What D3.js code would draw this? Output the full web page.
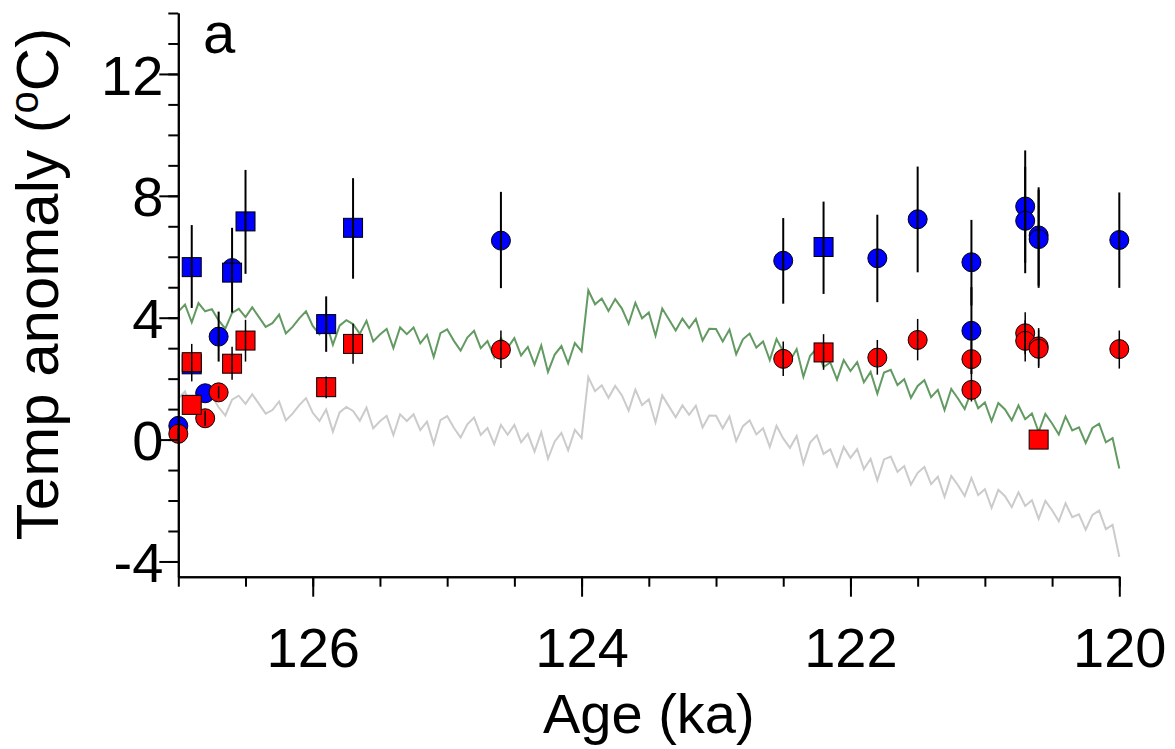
<!DOCTYPE html>
<html>
<head>
<meta charset="utf-8">
<script src="https://cdn.jsdelivr.net/npm/d3@7"></script>
<style>
  body { margin: 0; background: #fff; }
  svg text { font-family: "Liberation Sans", Arial, sans-serif; fill: #000; }
</style>
</head>
<body>
<div id="chart"></div>
<script>
// model runs, sampled every 0.05 ka from 127 down to 120 ka
const modelStart = 127
const modelStep = 0.05
const greenModel = [
  4.20, 4.43, 3.85, 4.48, 4.21, 4.28, 3.91, 3.64, 4.16, 4.29,
  4.02, 4.34, 4.02, 3.70, 3.82, 4.10, 3.48, 3.70, 3.98, 4.21,
  3.73, 3.46, 3.84, 3.11, 3.74, 3.92, 3.79, 3.47, 3.90, 3.22,
  3.45, 3.63, 3.00, 3.68, 3.46, 3.68, 3.16, 3.44, 2.71, 3.49,
  3.62, 3.24, 2.92, 3.35, 3.57, 3.00, 3.23, 2.70, 3.33, 3.01,
  3.33, 2.76, 3.04, 2.46, 3.09, 2.22, 2.79, 3.07, 2.50, 3.17,
  2.90, 4.90, 4.44, 4.63, 4.22, 4.61, 4.30, 3.80, 4.49, 3.98,
  4.17, 3.41, 4.30, 3.94, 3.58, 3.97, 3.66, 3.96, 3.25, 3.64,
  3.63, 3.22, 3.61, 2.80, 3.29, 3.48, 3.02, 3.22, 2.61, 3.30,
  2.89, 2.58, 2.97, 2.06, 2.75, 2.99, 2.38, 2.53, 1.97, 2.61,
  2.25, 2.54, 1.88, 2.22, 1.51, 2.20, 2.29, 1.79, 1.98, 1.37,
  1.76, 1.95, 1.39, 1.63, 0.97, 1.66, 1.35, 1.00, 1.59, 1.03,
  1.22, 0.61, 1.20, 0.99, 0.63, 1.12, 0.67, 0.86, 0.25, 0.84,
  0.53, 0.17, 0.76, 0.30, 0.40, -0.11, 0.38, 0.52, -0.09, 0.05,
  -0.95
]
const greyModel = [
  1.35, 1.58, 1.00, 1.63, 1.36, 1.43, 1.06, 0.79, 1.31, 1.44,
  1.17, 1.49, 1.17, 0.85, 0.97, 1.25, 0.63, 0.85, 1.13, 1.36,
  0.88, 0.61, 0.99, 0.26, 0.89, 1.07, 0.94, 0.62, 1.05, 0.37,
  0.60, 0.78, 0.15, 0.83, 0.61, 0.83, 0.31, 0.59, -0.14, 0.64,
  0.77, 0.39, 0.07, 0.50, 0.72, 0.15, 0.38, -0.15, 0.48, 0.16,
  0.48, -0.09, 0.19, -0.39, 0.24, -0.63, -0.06, 0.22, -0.35, 0.32,
  0.05, 2.05, 1.59, 1.78, 1.37, 1.76, 1.45, 0.95, 1.64, 1.13,
  1.32, 0.56, 1.45, 1.09, 0.73, 1.12, 0.81, 1.11, 0.40, 0.79,
  0.78, 0.37, 0.76, -0.05, 0.44, 0.63, 0.17, 0.37, -0.24, 0.45,
  0.04, -0.27, 0.12, -0.79, -0.10, 0.14, -0.47, -0.32, -0.88, -0.24,
  -0.60, -0.31, -0.97, -0.63, -1.34, -0.65, -0.56, -1.06, -0.87, -1.48,
  -1.09, -0.90, -1.46, -1.22, -1.88, -1.19, -1.50, -1.85, -1.26, -1.82,
  -1.63, -2.24, -1.65, -1.86, -2.22, -1.73, -2.18, -1.99, -2.60, -2.01,
  -2.32, -2.68, -2.09, -2.55, -2.45, -2.96, -2.47, -2.33, -2.94, -2.80,
  -3.85
]

// proxy estimates: [age ka, anomaly, lower, upper]  (null = no bar)
const blueCircles = [
  [127.00, 0.45, null, null],
  [126.80, 1.52, null, null],
  [126.70, 3.38, 2.56, 4.20],
  [126.60, 5.63, null, null],
  [124.60, 6.53, 4.97, 8.13],
  [122.50, 5.87, 4.46, 7.27],
  [121.80, 5.95, 4.51, 7.38],
  [121.50, 7.23, 5.49, 8.96],
  [121.10, 5.82, 4.40, 7.21],
  [121.10, 3.57, 2.15, 5.00],
  [120.70, 7.65, 5.80, 9.49],
  [120.70, 7.18, 5.46, 8.95],
  [120.60, 6.70, 5.05, 8.28],
  [120.60, 6.58, 4.98, 8.20],
  [120.00, 6.55, 4.98, 8.11]
]
const blueSquares = [
  [126.90, 2.47, null, null],
  [126.90, 5.66, 4.32, 7.04],
  [126.60, 5.48, 4.17, 6.95],
  [126.50, 7.16, 5.44, 8.85],
  [125.90, 3.79, 2.88, 4.70],
  [125.70, 6.95, 5.28, 8.58],
  [122.20, 6.32, 4.78, 7.81]
]
const redCircles = [
  [127.00, 0.19, 0.00, 0.38],
  [126.80, 0.70, 0.45, 0.95],
  [126.70, 1.55, 1.35, 1.75],
  [124.60, 2.95, 2.35, 3.58],
  [122.50, 2.65, 2.09, 3.22],
  [121.80, 2.69, 2.13, 3.27],
  [121.50, 3.27, 2.60, 3.96],
  [121.10, 2.64, 2.05, 3.22],
  [121.10, 1.63, 1.25, 2.05],
  [120.70, 3.49, 2.80, 4.18],
  [120.70, 3.24, 2.56, 3.92],
  [120.60, 3.06, 2.40, 3.66],
  [120.60, 2.98, 2.35, 3.60],
  [120.00, 2.97, 2.33, 3.58]
]
const redSquares = [
  [126.90, 2.54, 1.91, 3.14],
  [126.90, 1.14, null, null],
  [126.60, 2.49, 1.96, 3.05],
  [126.50, 3.25, 2.56, 3.93],
  [125.90, 1.72, 1.36, 2.07],
  [125.70, 3.14, 2.49, 3.80],
  [122.20, 2.86, 2.29, 3.46],
  [120.60, 0.00, null, null]
]

const xMajor = [126, 124, 122, 120]
const yMajor = [-4, 0, 4, 8, 12]

function draw(){
    const dimension = { width: 1175, height: 749 }

    const svg = d3.select('#chart')
        .append('svg')
        .attr('width', dimension.width)
        .attr('height', dimension.height)

    // scales
    const x = d3.scaleLinear().domain([127, 120]).range([178.3, 1119.3])
    const y = d3.scaleLinear().domain([-4.5, 14]).range([576.7, 13])

    // model lines
    const ages = d3.range(greenModel.length).map(i => modelStart - i * modelStep)
    const line = d3.line()
        .x(d => x(d[0]))
        .y(d => y(d[1]))

    svg.append('path')
        .datum(ages.map((a, i) => [a, greyModel[i]]))
        .attr('d', line)
        .attr('fill', 'none')
        .attr('stroke', '#cbcbcb')
        .attr('stroke-width', 2)

    svg.append('path')
        .datum(ages.map((a, i) => [a, greenModel[i]]))
        .attr('d', line)
        .attr('fill', 'none')
        .attr('stroke', '#629a62')
        .attr('stroke-width', 2)

    // markers
    const r = 9.5
    const side = 19
    const markers = svg.append('g').attr('stroke', '#000').attr('stroke-width', 1)

    markers.selectAll('.bc')
        .data(blueCircles)
        .join('circle')
        .attr('cx', d => x(d[0]))
        .attr('cy', d => y(d[1]))
        .attr('r', r)
        .attr('fill', '#0000ff')

    markers.selectAll('.bs')
        .data(blueSquares)
        .join('rect')
        .attr('x', d => x(d[0]) - side / 2)
        .attr('y', d => y(d[1]) - side / 2)
        .attr('width', side)
        .attr('height', side)
        .attr('fill', '#0000ff')

    markers.selectAll('.rc')
        .data(redCircles)
        .join('circle')
        .attr('cx', d => x(d[0]))
        .attr('cy', d => y(d[1]))
        .attr('r', r)
        .attr('fill', '#ff0000')

    markers.selectAll('.rs')
        .data(redSquares)
        .join('rect')
        .attr('x', d => x(d[0]) - side / 2)
        .attr('y', d => y(d[1]) - side / 2)
        .attr('width', side)
        .attr('height', side)
        .attr('fill', '#ff0000')

    // error bars on top
    const bars = svg.append('g').attr('stroke', '#000')
    const blueBars = blueCircles.concat(blueSquares).filter(d => d[2] !== null)
    const redBars = redCircles.concat(redSquares).filter(d => d[2] !== null)

    bars.selectAll('.eb')
        .data(blueBars)
        .join('line')
        .attr('x1', d => x(d[0]))
        .attr('x2', d => x(d[0]))
        .attr('y1', d => y(d[2]))
        .attr('y2', d => y(d[3]))
        .attr('stroke-width', 2)

    bars.selectAll('.er')
        .data(redBars)
        .join('line')
        .attr('x1', d => x(d[0]))
        .attr('x2', d => x(d[0]))
        .attr('y1', d => y(d[2]))
        .attr('y2', d => y(d[3]))
        .attr('stroke-width', 1.5)

    // axes
    svg.append('g')
        .attr('transform', `translate(${x(127)},0)`)
        .call(d3.axisLeft(y).tickValues(d3.range(-4, 15, 1)).tickSize(10).tickSizeOuter(0).tickFormat(''))
    const yAxis = svg.append('g')
        .attr('transform', `translate(${x(127)},0)`)
        .call(d3.axisLeft(y).tickValues(yMajor).tickSize(19).tickSizeOuter(0).tickPadding(-4)
            .tickFormat(d => String(d)))

    svg.append('g')
        .attr('transform', `translate(0,${y(-4.5)})`)
        .call(d3.axisBottom(x).tickValues(d3.range(0, 15).map(i => 127 - i * 0.5)).tickSize(10).tickSizeOuter(0).tickFormat(''))
    const xAxis = svg.append('g')
        .attr('transform', `translate(0,${y(-4.5)})`)
        .call(d3.axisBottom(x).tickValues(xMajor).tickSize(20).tickSizeOuter(0).tickFormat(d => String(d)))

    svg.selectAll('.domain, .tick line')
        .attr('stroke', '#000')
        .attr('stroke-width', 2)

    yAxis.selectAll('text')
        .style('font-size', '56px')
        .attr('dy', '0.36em')
    xAxis.selectAll('text')
        .style('font-size', '56px')
        .attr('y', 0)
        .attr('dy', 0)
        .attr('transform', 'translate(0,90)')

    // titles
    svg.append('text')
        .attr('x', x(123.5))
        .attr('y', 733)
        .attr('text-anchor', 'middle')
        .style('font-size', '56px')
        .text('Age (ka)')

    const yTitle = svg.append('text')
        .attr('transform', 'translate(58,284) rotate(-90)')
        .attr('text-anchor', 'middle')
        .style('font-size', '60px')
    yTitle.append('tspan').text('Temp anomaly (')
    yTitle.append('tspan').text('o').style('font-size', '40px').attr('dy', '-20')
    yTitle.append('tspan').text('C)').attr('dy', '20')

    svg.append('text')
        .attr('x', 203)
        .attr('y', 53)
        .style('font-size', '58px')
        .text('a')
}

draw()
</script>
</body>
</html>
